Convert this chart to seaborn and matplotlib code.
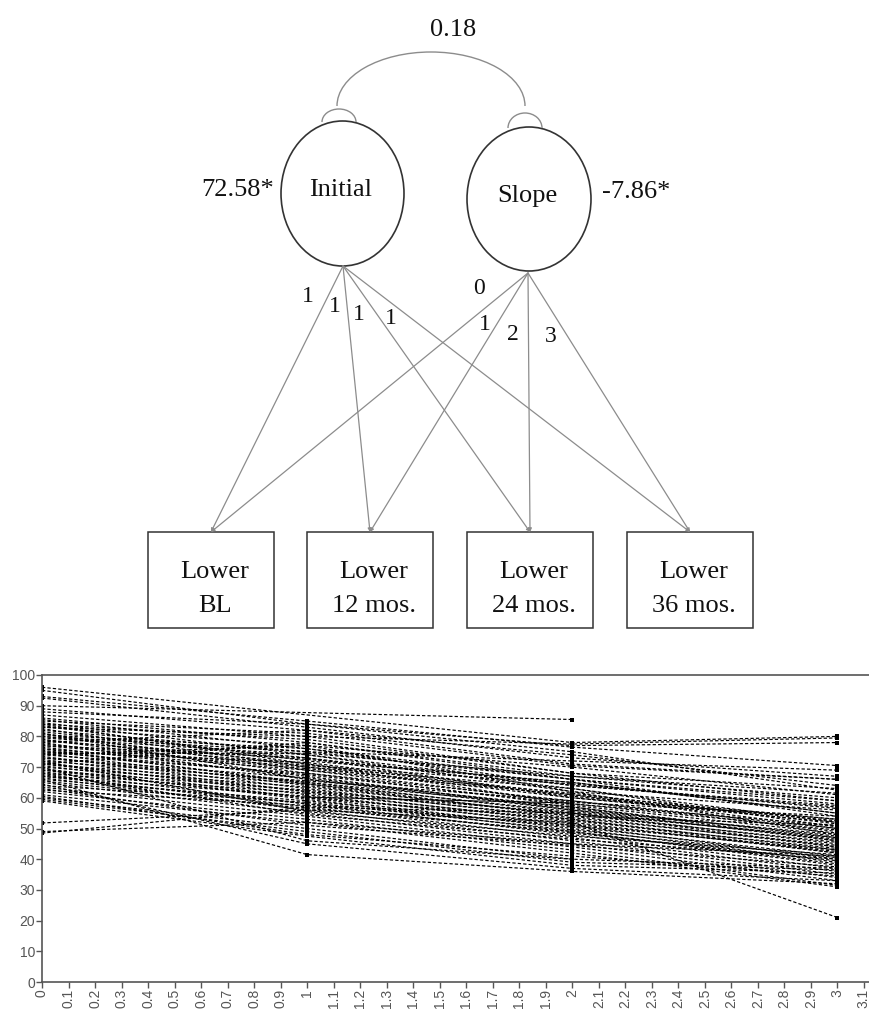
import numpy as np
import pandas as pd
import matplotlib
matplotlib.use("Agg")
import matplotlib.pyplot as plt
from matplotlib.patches import Ellipse, Arc, Rectangle
import seaborn as sns

nan = np.nan

# path diagram text
latent_names = ["Initial", "Slope"]
latent_means = ["72.58*", "-7.86*"]
latent_cov = "0.18"
indicator_top = ["Lower", "Lower", "Lower", "Lower"]
indicator_bottom = ["BL", "12 mos.", "24 mos.", "36 mos."]
intercept_loadings = ["1", "1", "1", "1"]
slope_loadings = ["0", "1", "2", "3"]

# individual trajectories, one entry per person
waves = [0, 1, 2, 3]
lower_bl = [96, 95, 93, 92.5, 90, 89, 88, 87, 86, 85.5,
            85, 84.5, 84, 83.5, 83, 82.5, 82, 81.5, 81, 80.5,
            80, 79.5, 79, 78.5, 78, 77.5, 77, 76.5, 76, 75.5,
            75, 74.5, 74, 73.5, 73, 72.5, 72, 71.5, 71, 70.5,
            70, 69.5, 69, 68.5, 68, 67.5, 67, 66.5, 66, 65,
            64, 63.5, 62.5, 62, 61, 60, 59.5, 59, 51.8, 49,
            48.5, 64.5, 66, 70, 80, 83, 78, 74, 71, 79,
            77, 75, 73, 71, 69, 67, 65.5, 76, 81, 84,
            72, 68, 63, 60.5, 74.5]
lower_12 = [nan, 84, 85, 83, nan, 82, 84, 80, 78, 76,
            81, 74, 79, 72, 77, 70, 75, 73, 69, 76,
            71, 74, 68, 72.5, 66, 70, 73, 67, 69, 65,
            71.5, 64, 68, 63, 66.5, 62, 65.5, 61, 64.5, 60,
            63.5, 59.5, 62.5, 58, 61.5, 57, 60.5, 56, 59, 55,
            58.5, 54, 57.5, 53, 52, 50, 49, 47.5, 56, 52,
            57, 45, 41.5, 46, 75, 80, 82, 77, 78, 70.5,
            69.5, 67.5, 65, 62, 60, 58, 56.5, 64.5, 66, 71,
            55.5, 54.5, 51, 48, 74.5]
lower_24 = [78, 77, 76.5, 73, 85.5, 71, 75, 68, 67, 66,
            70.5, 64, 68, 65, 62, 63, 66, 60, 61, 64,
            58, 62, 59, 65, 57, 60, 63, 56, 58.5, 55,
            61, 54, 57.5, 53, 56.5, 52, 59, 51, 55.5, 50,
            54.5, 49, 53.5, 48, 52.5, 47, 51.5, 46, 50.5, 45,
            49.5, 44, 48.5, 43, 42, 40, 39, 38, 52, 45,
            55, 37, 36, 40, 72, 77.5, 74, 70, 66, 64.5,
            61.5, 58, 57, 55, 53, 51, 49, 54, 56, 60.5,
            47.5, 46.5, 44.5, 41, 67]
lower_36 = [80, 78, 70.5, 67, nan, 66, 62.5, 63, 60, 58,
            66, 57, 59, 55, 56, 52, 54, 53, 50, 57.5,
            51, 48, 49, 55, 47, 52, 50.5, 46, 54, 45,
            53, 44, 48.5, 43, 47.5, 42, 50, 40, 46.5, 39,
            45.5, 38, 44.5, 37, 43.5, 36, 42.5, 35, 41, 34,
            40.5, 33, 39.5, 31.5, 31, nan, 36.5, 35.5, 21, 41,
            47, 33, 32, 37, 69, 79.5, 64, 61, 59, 56.5,
            51.5, 49.5, 46, 44, 42, 43, 38.5, 51, 48, 52.5,
            41.5, 40, 37.5, 34.5, 61.5]
solid_line = [nan, 60.2, 58.3, nan]

x_ticks = np.round(np.arange(0, 3.15, 0.1), 1)
y_ticks = list(range(0, 101, 10))

sns.set_style("white")
plt.rcParams["font.family"] = ["Liberation Sans", "DejaVu Sans"]

fig = plt.figure(figsize=(8.7, 10.09), dpi=100)

# ---------------- path diagram ----------------
axd = fig.add_axes([0, 1 - 640 / 1009, 1, 640 / 1009])
axd.set_xlim(0, 870)
axd.set_ylim(640, 0)
axd.axis("off")

serif = dict(family="Liberation Serif", color="#111111")
dark = "#333333"
gray = "#8c8c8c"

centers = [(342.5, 193.5), (529, 199)]
sizes = [(123, 145), (124, 144)]
bottoms = [(343, 266), (528, 273)]
for (cx, cy), (w, h), name in zip(centers, sizes, latent_names):
    axd.add_patch(Ellipse((cx, cy), w, h, fill=False, ec=dark, lw=1.2))
    axd.text(cx - 2, cy - 3, name, ha="center", va="center", fontsize=19, **serif)
axd.text(238, 190, latent_means[0], ha="center", va="center", fontsize=19, **serif)
axd.text(636, 192, latent_means[1], ha="center", va="center", fontsize=19, **serif)

# covariance arc and variance loops
axd.add_patch(Arc((431, 106), 188, 108, theta1=180, theta2=360, ec=gray, lw=1.0))
axd.text(453, 30, latent_cov, ha="center", va="center", fontsize=19, **serif)
axd.add_patch(Arc((339, 122), 34, 26, theta1=180, theta2=360, ec=gray, lw=1.0))
axd.add_patch(Arc((525, 128), 34, 30, theta1=180, theta2=360, ec=gray, lw=1.0))

# indicator boxes
box_left = [148, 307, 467, 627]
box_w, box_top, box_h = 126, 532, 96
targets = [l + box_w / 2 for l in box_left]
for left, t1, t2 in zip(box_left, indicator_top, indicator_bottom):
    axd.add_patch(Rectangle((left, box_top), box_w, box_h, fill=False, ec=dark, lw=1.1))
    axd.text(left + box_w / 2 + 4, 572, t1, ha="center", va="center", fontsize=19, **serif)
    axd.text(left + box_w / 2 + 4, 606, t2, ha="center", va="center", fontsize=19, **serif)

for (bx, by) in bottoms:
    for tx in targets:
        axd.annotate("", xy=(tx, box_top), xytext=(bx, by),
                     arrowprops=dict(arrowstyle="-|>", mutation_scale=5, color=gray,
                                     lw=0.9, shrinkA=0, shrinkB=0))

load_pos_i = [(308, 297), (335, 307), (359, 315), (391, 318)]
load_pos_s = [(479, 289), (485, 325), (513, 335), (551, 337)]
for (x, y), lab in zip(load_pos_i, intercept_loadings):
    axd.text(x, y, lab, ha="center", va="center", fontsize=17, **serif)
for (x, y), lab in zip(load_pos_s, slope_loadings):
    axd.text(x, y, lab, ha="center", va="center", fontsize=17, **serif)

# ---------------- spaghetti plot ----------------
ax = fig.add_axes([42 / 870, 27 / 1009, 828 / 870, 307 / 1009])

n = len(lower_bl)
scores = np.column_stack([lower_bl, lower_12, lower_24, lower_36])
long = pd.DataFrame({
    "subject": np.repeat(np.arange(n), len(waves)),
    "wave": np.tile(waves, n),
    "score": scores.ravel(),
}).dropna()

sns.lineplot(data=long, x="wave", y="score", units="subject", estimator=None,
             color="black", lw=0.85, linestyle=(0, (2.8, 1.8)), marker="s",
             markersize=2.8, markeredgewidth=0, legend=False, ax=ax)

solid = pd.DataFrame({"wave": waves, "score": solid_line}).dropna()
sns.lineplot(data=solid, x="wave", y="score", color="black", lw=0.7, ax=ax)

ax.set_xlim(0, 3.123)
ax.set_ylim(0, 100)
ax.set_xticks(x_ticks)
ax.set_xticklabels([f"{v:g}" for v in x_ticks], rotation=90)
ax.set_yticks(y_ticks)
ax.set_xlabel("")
ax.set_ylabel("")
ax.tick_params(axis="both", which="major", direction="out", length=4, width=1,
               color="#555555", labelsize=10, labelcolor="#555555", pad=1,
               bottom=True, left=True)
for side in ["left", "bottom", "top"]:
    ax.spines[side].set_color("#555555")
    ax.spines[side].set_linewidth(1.2)
ax.spines["right"].set_visible(False)

fig.savefig("out.png", dpi=100)
